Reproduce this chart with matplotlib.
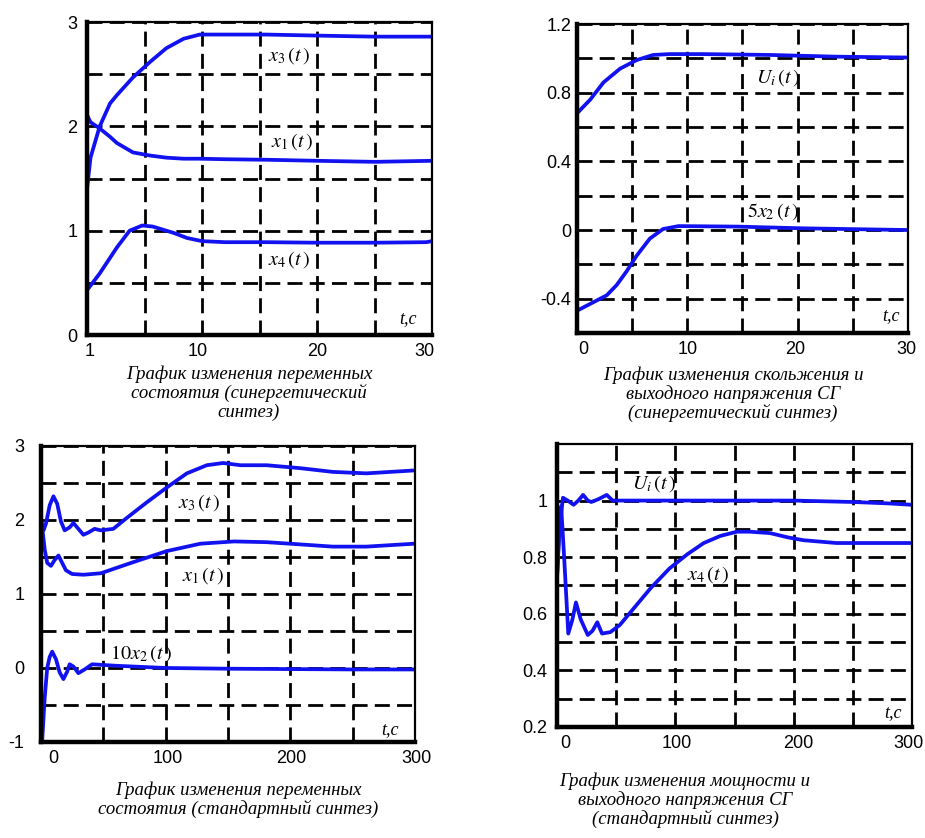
import matplotlib
matplotlib.use("Agg")
import matplotlib.pyplot as plt
import matplotlib.transforms as mtransforms

plt.rcParams["mathtext.fontset"] = "stix"

# ── data ─────────────────────────────────────────────────────────────────────
# panel 1: synergetic synthesis, state variables
t_a = [0.0, 0.3, 1.1, 2.0, 2.6, 4.0, 5.5, 6.9, 8.4, 9.8, 12.0, 15.6, 20.0, 25.0, 30.0]
x3_a = [1.40, 1.70, 2.00, 2.22, 2.30, 2.47, 2.62, 2.75, 2.84, 2.88, 2.88, 2.88, 2.87, 2.86, 2.86]
x1_a = [2.11, 2.04, 1.98, 1.90, 1.84, 1.75, 1.72, 1.70, 1.69, 1.69, 1.685, 1.68, 1.67, 1.66, 1.67]
t_a4 = [0.0, 1.1, 2.6, 3.7, 4.8, 5.7, 7.5, 8.7, 10.0, 12.0, 15.6, 20.0, 25.0, 29.5, 30.0]
x4_a = [0.43, 0.59, 0.84, 1.00, 1.05, 1.04, 0.98, 0.93, 0.90, 0.89, 0.89, 0.885, 0.885, 0.89, 0.90]

# panel 2: synergetic synthesis, slip and output voltage
t_b = [0.0, 1.2, 2.4, 3.9, 5.4, 6.9, 8.4, 11.4, 17.5, 23.5, 30.0]
ui_b = [0.68, 0.76, 0.86, 0.94, 0.99, 1.02, 1.025, 1.025, 1.02, 1.01, 1.005]
t_b2 = [0.0, 1.5, 2.7, 3.6, 4.5, 5.4, 6.6, 7.8, 9.2, 14.5, 20.5, 30.0]
x2_b = [-0.47, -0.42, -0.38, -0.32, -0.24, -0.15, -0.05, 0.006, 0.023, 0.02, 0.01, 0.0]

# panel 3: standard synthesis, state variables
t_c3 = [0, 1, 2, 4, 7, 10, 13, 16, 19, 23, 26, 30, 34, 38, 43, 48, 58, 69, 85, 101,
        117, 133, 146, 160, 181, 208, 234, 261, 300]
x3_c = [2.02, 1.92, 1.86, 1.95, 2.20, 2.32, 2.22, 1.98, 1.86, 1.90, 1.96, 1.88, 1.80,
        1.83, 1.88, 1.86, 1.88, 2.03, 2.24, 2.44, 2.63, 2.74, 2.77, 2.74, 2.74, 2.70,
        2.65, 2.63, 2.67]
t_c1 = [0, 1, 3, 5, 8, 11, 14, 17, 20, 25, 34, 48, 74, 101, 128, 155, 181, 208, 234,
        261, 300]
x1_c = [2.02, 1.90, 1.60, 1.42, 1.38, 1.46, 1.52, 1.42, 1.32, 1.27, 1.26, 1.28, 1.43,
        1.58, 1.68, 1.71, 1.70, 1.67, 1.64, 1.64, 1.68]
t_c2 = [1, 3, 5, 7, 9, 12, 15, 18, 21, 23, 26, 30, 35, 41, 60, 100, 150, 200, 250, 300]
x2_c = [-0.97, -0.40, 0.00, 0.15, 0.22, 0.12, -0.06, -0.15, -0.05, 0.05, 0.02, -0.07,
        -0.02, 0.05, 0.03, 0.0, -0.01, -0.015, -0.02, -0.02]

# panel 4: standard synthesis, power and output voltage
t_d = [0, 2, 5, 9, 14, 18, 22, 26, 29, 35, 42, 47, 60, 100, 150, 200, 250, 280, 300]
ui_d = [0.73, 0.90, 1.01, 1.00, 0.985, 1.00, 1.02, 1.00, 0.995, 1.005, 1.02, 1.00,
        1.00, 1.00, 1.00, 1.00, 0.995, 0.99, 0.985]
t_d4 = [0, 2, 3.5, 6, 9.5, 13, 16, 20, 26, 30, 34, 38, 45, 53, 65, 79, 95, 110, 124,
        138, 152, 163, 180, 195, 208, 222, 236, 260, 300]
x4_d = [0.73, 0.90, 0.98, 0.80, 0.53, 0.58, 0.64, 0.58, 0.525, 0.54, 0.57, 0.53,
        0.535, 0.56, 0.62, 0.69, 0.76, 0.81, 0.85, 0.875, 0.89, 0.89, 0.885, 0.87,
        0.86, 0.855, 0.85, 0.85, 0.85]

captions = [
    "График изменения переменных\nсостоятия (синергетический\nсинтез)",
    "График изменения скольжения и\nвыходного напряжения СГ\n(синергетический синтез)",
    "График изменения переменных\nсостоятия (стандартный синтез)",
    "График изменения мощности и\nвыходного напряжения СГ\n(стандартный синтез)",
]

BLUE = "#1212f0"
GRID_LS = (0, (5.4, 2.6))
LW = 2.7
LABEL_FONT = {"family": "Liberation Sans", "size": 13}


def style_axes(ax, xlim, ylim, xmaj, xlabels, xmin, ymaj, ylabels, ymin, ypad, xpad, xshift):
    ax.set_xlim(*xlim)
    ax.set_ylim(*ylim)
    ax.set_xticks(xmaj)
    ax.set_xticklabels(xlabels, fontdict=LABEL_FONT)
    ax.set_xticks(xmin, minor=True)
    ax.set_yticks(ymaj)
    ax.set_yticklabels(ylabels, fontdict=LABEL_FONT)
    ax.set_yticks(ymin, minor=True)
    ax.tick_params(which="both", length=0)
    ax.tick_params(axis="y", pad=ypad)
    ax.tick_params(axis="x", pad=xpad)
    ax.grid(which="both", color="black", linewidth=2.0, linestyle=GRID_LS, zorder=1)
    ax.set_axisbelow(True)
    for side in ("left", "bottom"):
        ax.spines[side].set_linewidth(3.2)
    for side in ("top", "right"):
        ax.spines[side].set_linewidth(1.6)
    for spine in ax.spines.values():
        spine.set_zorder(4)
    # the original picture nudges the first / last x labels inwards
    for lab, dx in zip(ax.get_xticklabels(), xshift):
        if dx:
            off = mtransforms.ScaledTranslation(dx / 100, 0, ax.figure.dpi_scale_trans)
            lab.set_transform(lab.get_transform() + off)


def curve_label(ax, x, y, s):
    ax.text(x, y, s, fontsize=14.5, ha="center", va="center", zorder=5)


def tc_label(ax, x, y):
    ax.text(x, y, "t,c", fontsize=13, style="italic", family="Liberation Serif",
            ha="center", va="center", zorder=5)


fig = plt.figure(figsize=(9.25, 8.38), dpi=100)
fig.patch.set_facecolor("white")

# ── panel 1 ──────────────────────────────────────────────────────────────────
ax1 = fig.add_axes([0.0941, 0.6002, 0.373, 0.3735])
ax1.plot(t_a, x3_a, color=BLUE, lw=LW, zorder=3)
ax1.plot(t_a, x1_a, color=BLUE, lw=LW, zorder=3)
ax1.plot(t_a4, x4_a, color=BLUE, lw=LW, zorder=3)
style_axes(ax1, (0, 30), (0, 3), [0, 10, 20, 30], ["1", "10", "20", "30"], [5, 15, 25],
           [0, 1, 2, 3], ["0", "1", "2", "3"], [0.5, 1.5, 2.5], 7, 6, [3, -4, 0, -8])
curve_label(ax1, 17.6, 2.68, r"$x_3\,(t\,)$")
curve_label(ax1, 17.8, 1.85, r"$x_1\,(t\,)$")
curve_label(ax1, 17.6, 0.72, r"$x_4\,(t\,)$")
tc_label(ax1, 27.9, 0.16)

# ── panel 2 ──────────────────────────────────────────────────────────────────
ax2 = fig.add_axes([0.6238, 0.6026, 0.3578, 0.3687])
ax2.plot(t_b, ui_b, color=BLUE, lw=LW, zorder=3)
ax2.plot(t_b2, x2_b, color=BLUE, lw=LW, zorder=3)
style_axes(ax2, (0, 30), (-0.6, 1.2), [0, 10, 20, 30], ["0", "10", "20", "30"], [5, 15, 25],
           [-0.4, 0, 0.4, 0.8, 1.2], ["-0.4", "0", "0.4", "0.8", "1.2"],
           [-0.2, 0.2, 0.6, 1.0], 4, 6, [6, 0, -2, -2])
curve_label(ax2, 18.2, 0.89, r"$U_i\,(t\,)$")
curve_label(ax2, 17.8, 0.11, r"$5x_2\,(t\,)$")
tc_label(ax2, 28.5, -0.50)

# ── panel 3 ──────────────────────────────────────────────────────────────────
ax3 = fig.add_axes([0.0443, 0.1146, 0.4043, 0.3532])
ax3.plot(t_c3, x3_c, color=BLUE, lw=LW, zorder=3)
ax3.plot(t_c1, x1_c, color=BLUE, lw=LW, zorder=3)
ax3.plot(t_c2, x2_c, color=BLUE, lw=LW, zorder=3)
style_axes(ax3, (0, 300), (-1, 3), [0, 100, 200, 300], ["0", "100", "200", "300"],
           [50, 150, 250], [-1, 0, 1, 2, 3], ["-1", "0", "1", "2", "3"],
           [-0.5, 0.5, 1.5, 2.5], 12, 6, [12, 2, 1, 2])
curve_label(ax3, 127, 2.24, r"$x_3\,(t\,)$")
curve_label(ax3, 130, 1.25, r"$x_1\,(t\,)$")
curve_label(ax3, 80, 0.20, r"$10x_2\,(t\,)$")
tc_label(ax3, 280, -0.83)

# ── panel 4 ──────────────────────────────────────────────────────────────────
ax4 = fig.add_axes([0.6022, 0.1325, 0.3838, 0.3377])
ax4.plot(t_d, ui_d, color=BLUE, lw=LW, zorder=3)
ax4.plot(t_d4, x4_d, color=BLUE, lw=LW, zorder=3)
style_axes(ax4, (0, 300), (0.2, 1.2), [0, 100, 200, 300], ["0", "100", "200", "300"],
           [50, 150, 250], [0.2, 0.4, 0.6, 0.8, 1.0], ["0.2", "0.4", "0.6", "0.8", "1"],
           [0.3, 0.5, 0.7, 0.9, 1.1], 7, 6, [8, 1, 5, -4])
curve_label(ax4, 82, 1.06, r"$U_i\,(t\,)$")
curve_label(ax4, 128, 0.74, r"$x_4\,(t\,)$")
tc_label(ax4, 284, 0.25)

# ── captions ─────────────────────────────────────────────────────────────────
cap_pos = [(249, 365), (733, 366), (238, 781), (685, 772)]
for text, (px, py) in zip(captions, cap_pos):
    fig.text(px / 925, 1 - py / 838, text, ha="center", va="top", fontsize=13.5,
             style="italic", family="Liberation Serif", linespacing=1.1)

plt.savefig("out.png", dpi=100, facecolor="white")
